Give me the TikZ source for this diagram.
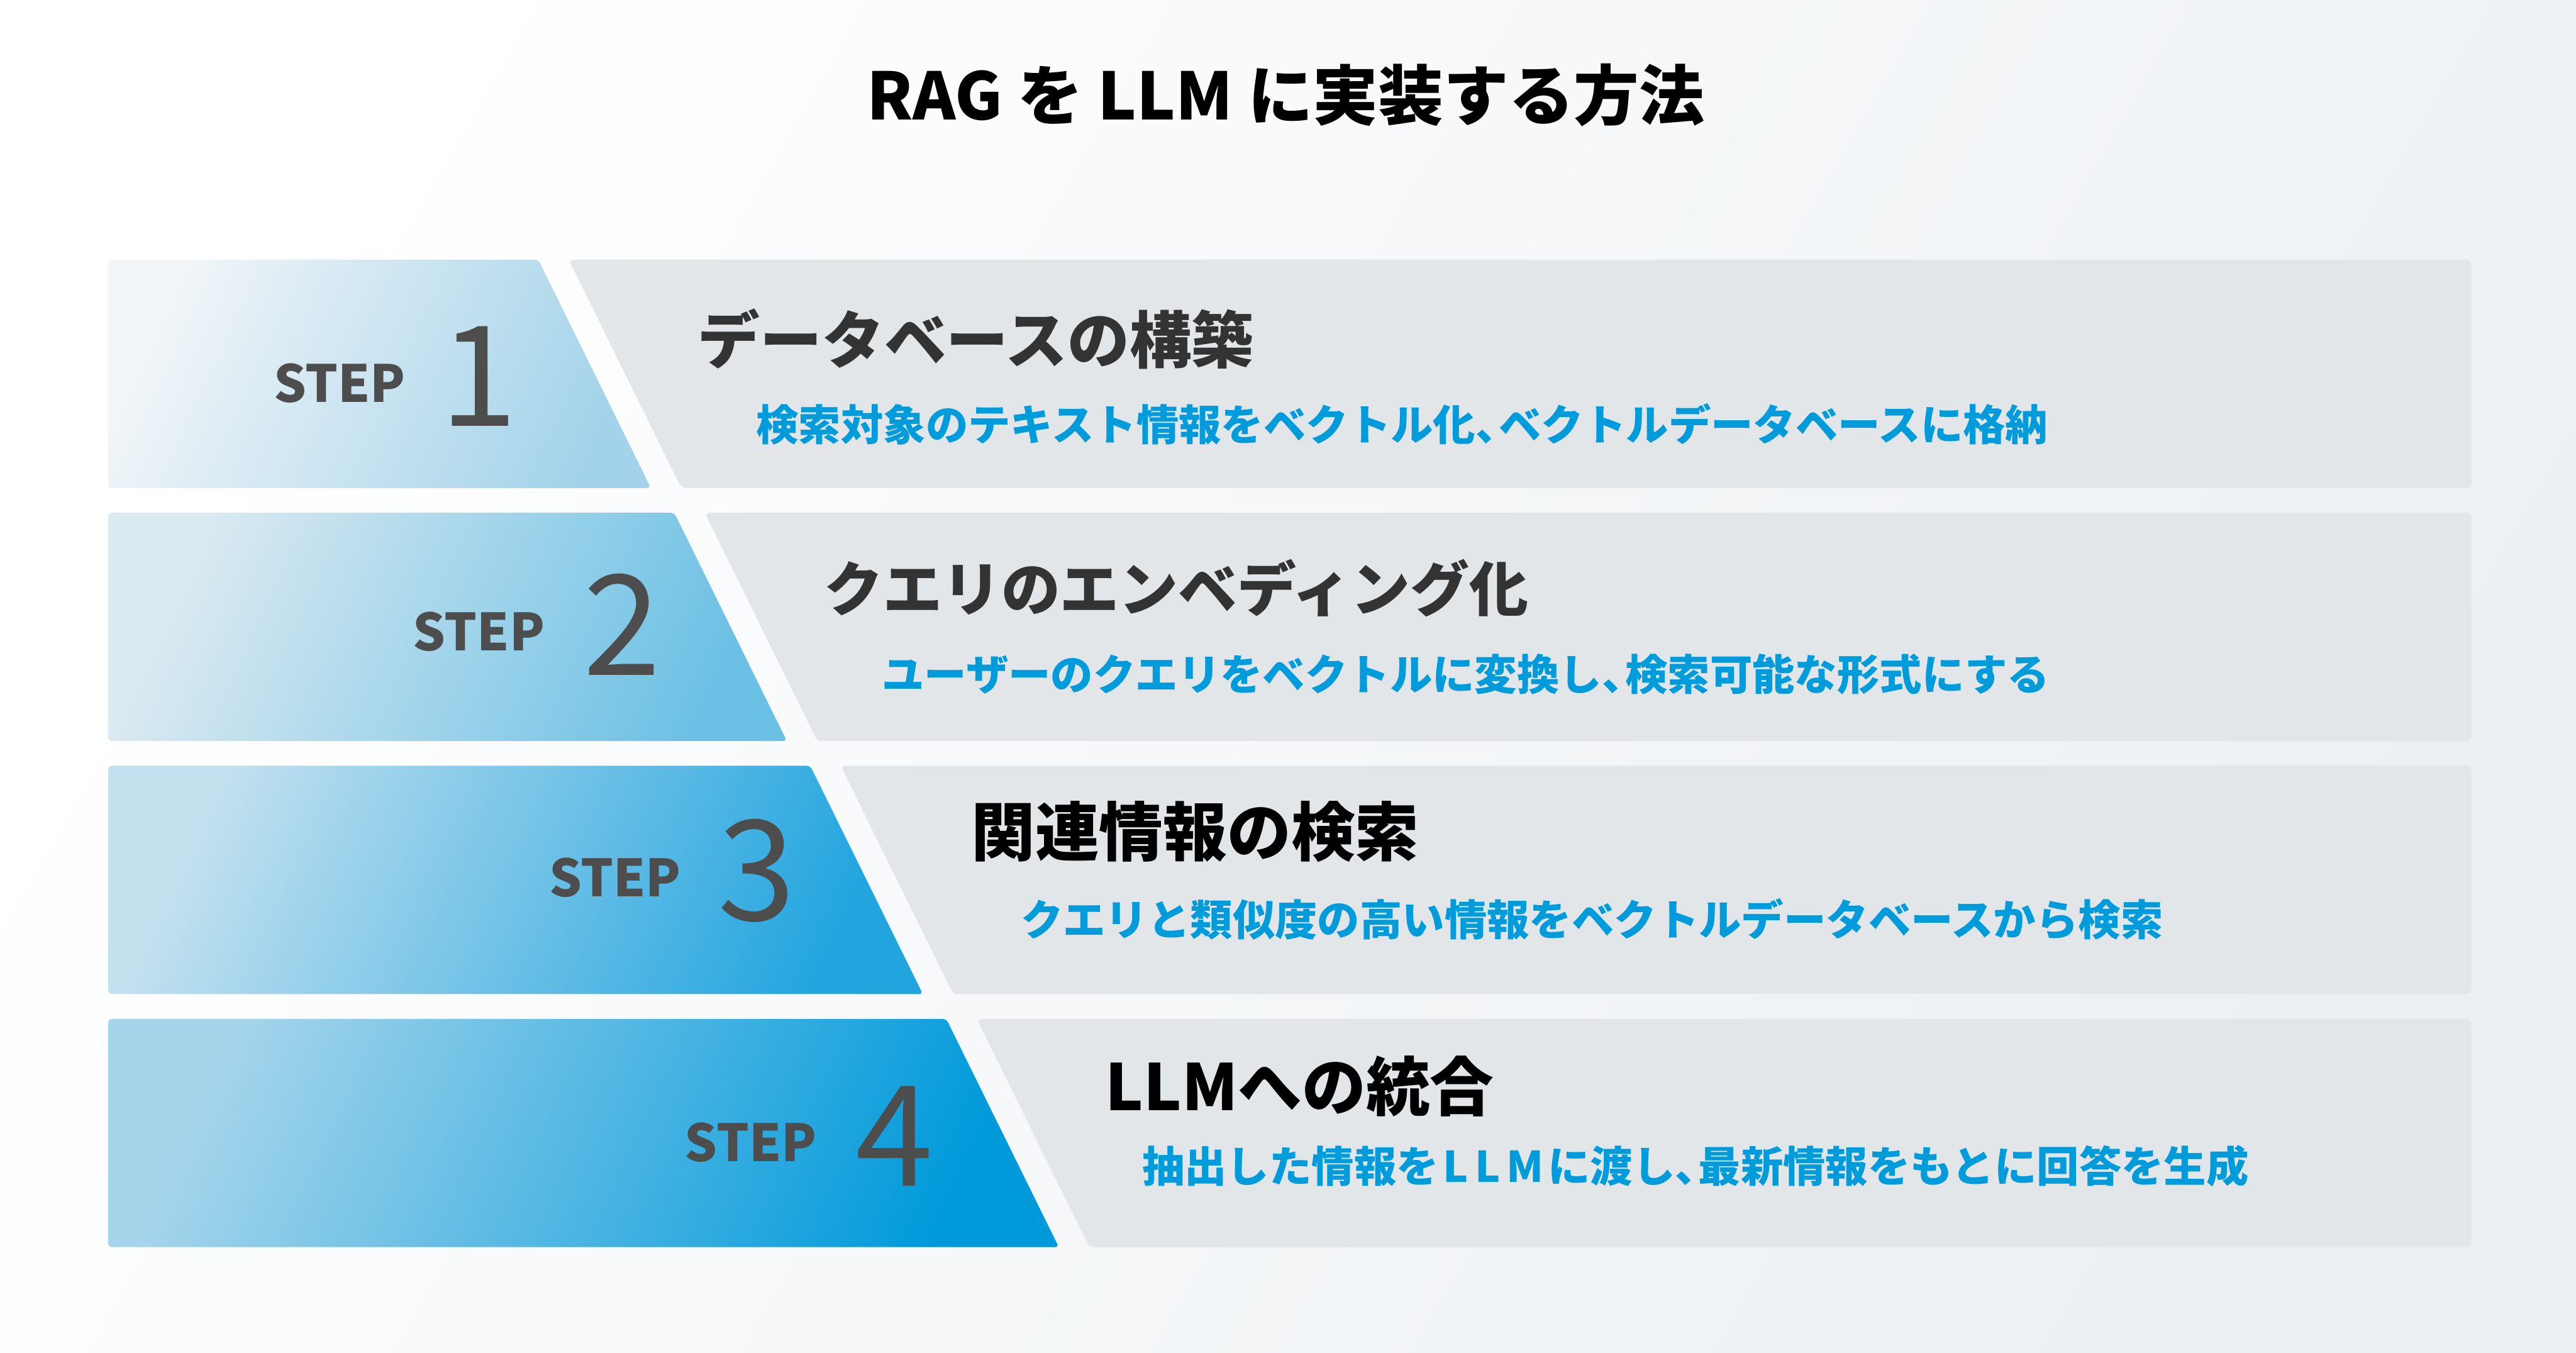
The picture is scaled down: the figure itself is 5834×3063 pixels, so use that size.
\documentclass[tikz,border=0pt]{standalone}
\usepackage{fontspec}
\setmainfont{Noto Sans CJK JP}
\definecolor{bgend}{HTML}{ECF0F3}
\definecolor{panel}{HTML}{E3E6E9}
\definecolor{stepgray}{HTML}{4D4D4D}
\definecolor{headgray}{HTML}{333333}
\definecolor{descblue}{HTML}{009BDB}
\definecolor{blueAi}{HTML}{F1F5F8}
\definecolor{blueBi}{HTML}{A3D3EA}
\definecolor{blueAii}{HTML}{DCEAF1}
\definecolor{blueBii}{HTML}{6BC0E5}
\definecolor{blueAiii}{HTML}{C4E1EF}
\definecolor{blueBiii}{HTML}{22A5DF}
\definecolor{blueAiv}{HTML}{A6D5EB}
\definecolor{blueBiv}{HTML}{009ADB}
\newcommand{\halfcomma}{、\kern-0.45em}
\begin{document}
\begin{tikzpicture}[x=0.01cm,y=-0.01cm,
  steplbl/.style={font=\bfseries\fontsize{33}{40}\selectfont,text=stepgray,inner sep=0,anchor=base east},
  stepnum/.style={font=\fontsize{90}{100}\selectfont,text=stepgray,inner sep=0,anchor=base},
  headtxt/.style={font=\bfseries\fontsize{40}{48}\selectfont,inner sep=0,anchor=west},
  desctxt/.style={font=\bfseries\fontsize{27.3}{33}\selectfont,text=descblue,inner sep=0,anchor=west},
  panelbox/.style={fill=panel,rounded corners=3pt}]
\useasboundingbox (0,0) rectangle (5834,3063);
\shade[left color=white,right color=bgend,shading angle=60] (0,0) rectangle (5834,3063);
\node[font=\bfseries\fontsize{42}{50}\selectfont,inner sep=0,anchor=base] (title) at (2912,271) {RAG を LLM に実装する方法};
% step 1
\shade[left color=blueAi,right color=blueBi,shading angle=65,rounded corners=2.5pt] (245,1105) -- (245,588) -- (1219,588) -- (1474,1105) -- cycle;
\fill[panelbox] (1288,588) -- (5597,588) -- (5597,1105) -- (1543,1105) -- cycle;
\node[steplbl] (step1lbl) at (919,911) {STEP};
\node[stepnum] (step1num) at (1084,965) {1};
\node[headtxt,text=headgray] (head1) at (1580,767) {データベースの構築};
\node[desctxt] (desc1) at (1712,961) {検索対象のテキスト情報をベクトル化\halfcomma ベクトルデータベースに格納};
% step 2
\shade[left color=blueAii,right color=blueBii,shading angle=65,rounded corners=2.5pt] (245,1678) -- (245,1161) -- (1527,1161) -- (1782,1678) -- cycle;
\fill[panelbox] (1596,1161) -- (5597,1161) -- (5597,1678) -- (1851,1678) -- cycle;
\node[steplbl] (step2lbl) at (1234,1474) {STEP};
\node[stepnum] (step2num) at (1409,1529) {2};
\node[headtxt,text=headgray,font=\bfseries\fontsize{38}{46}\selectfont] (head2) at (1866,1332) {クエリのエンベディング化};
\node[desctxt] (desc2) at (1997,1527) {ユーザーのクエリをベクトルに変換し\halfcomma 検索可能な形式にする};
% step 3
\shade[left color=blueAiii,right color=blueBiii,shading angle=65,rounded corners=2.5pt] (245,2251) -- (245,1734) -- (1835,1734) -- (2090,2251) -- cycle;
\fill[panelbox] (1904,1734) -- (5597,1734) -- (5597,2251) -- (2159,2251) -- cycle;
\node[steplbl] (step3lbl) at (1543,2031) {STEP};
\node[stepnum] (step3num) at (1713,2085) {3};
\node[headtxt,text=black,font=\bfseries\fontsize{41.2}{49}\selectfont] (head3) at (2199,1883) {関連情報の検索};
\node[desctxt] (desc3) at (2311,2082) {クエリと類似度の高い情報をベクトルデータベースから検索};
% step 4
\shade[left color=blueAiv,right color=blueBiv,shading angle=65,rounded corners=2.5pt] (245,2824) -- (245,2307) -- (2143,2307) -- (2398,2824) -- cycle;
\fill[panelbox] (2212,2307) -- (5597,2307) -- (5597,2824) -- (2467,2824) -- cycle;
\node[steplbl] (step4lbl) at (1850,2630) {STEP};
\node[stepnum] (step4num) at (2025,2685) {4};
\node[headtxt,text=black,font=\bfseries\fontsize{41.2}{49}\selectfont] (head4) at (2503,2459) {LLMへの統合};
\node[desctxt] (desc4) at (2586,2640) {抽出した情報を\kern0.1em L\kern0.15em L\kern0.15em M\kern0.1em に渡し\halfcomma 最新情報をもとに回答を生成};
\end{tikzpicture}
\end{document}
